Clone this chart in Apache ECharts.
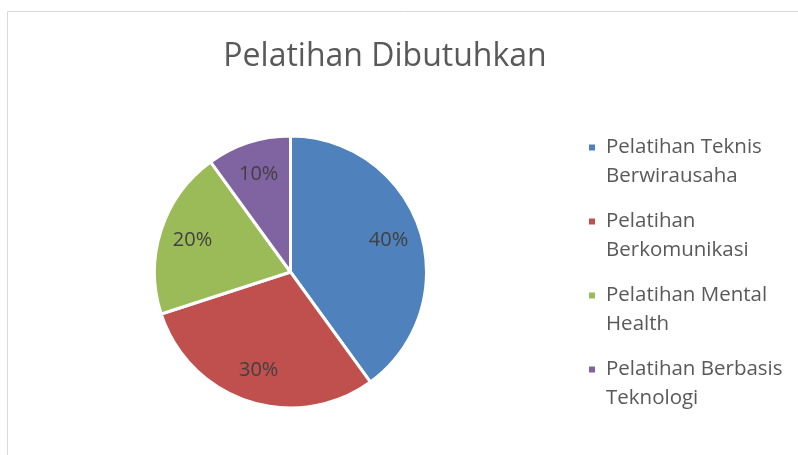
<!DOCTYPE html>
<html>
<head>
    <meta charset="UTF-8">
    <title>Pelatihan Dibutuhkan</title>
    <script src="https://cdn.jsdelivr.net/npm/echarts@6/dist/echarts.min.js"></script>
    <style>
        html, body { margin: 0; padding: 0; background: #fff; }
        #chart { width: 798px; height: 455px; }
    </style>
</head>
<body>
<div id="chart"></div>
<script>
    // data
    var categories = ['Pelatihan Teknis Berwirausaha', 'Pelatihan Berkomunikasi', 'Pelatihan Mental Health', 'Pelatihan Berbasis Teknologi'];
    var values = [40, 30, 20, 10];
    var colors = ['#4F81BD', '#C0504D', '#9BBB59', '#8064A2'];

    var pieData = categories.map(function (name, i) {
        return { name: name, value: values[i], itemStyle: { color: colors[i] } };
    });

    var chart = echarts.init(document.getElementById('chart'));
    var option = {
        animation: false,
        backgroundColor: '#fff',
        title: {
            text: 'Pelatihan Dibutuhkan',
            left: 380,
            textAlign: 'center',
            top: 36,
            textStyle: { fontFamily: 'Open Sans', fontSize: 32, fontWeight: 'normal', color: '#595959' }
        },
        legend: {
            orient: 'vertical',
            left: 587,
            top: 104,
            padding: 0,
            itemWidth: 8,
            itemHeight: 8,
            itemGap: -13,
            icon: 'rect',
            selectedMode: false,
            formatter: function (name) {
                // wrap before the last word; empty first line keeps the marker on line one
                var k = name.lastIndexOf(' ');
                return '\n' + name.slice(0, k) + '\n' + name.slice(k + 1);
            },
            textStyle: {
                fontFamily: 'Open Sans', fontSize: 20.5, color: '#595959',
                lineHeight: 29, padding: [0, 0, 0, 5]
            }
        },
        graphic: [{
            type: 'rect',
            shape: { x: 7.5, y: 11.5, width: 900, height: 600 },
            style: { fill: 'none', stroke: '#d9d9d9', lineWidth: 1 },
            silent: true
        }],
        series: [{
            type: 'pie',
            center: [290.5, 272],
            radius: 136,
            startAngle: 90,
            data: pieData,
            label: { show: false },
            labelLine: { show: false },
            itemStyle: { borderColor: '#fff', borderWidth: 3 },
            emphasis: { disabled: true }
        }, {
            // same slices, only used to place the percent labels
            type: 'pie',
            center: [290.5, 272],
            radius: [64, 136],
            startAngle: 90,
            silent: true,
            data: pieData.map(function (d) {
                return { name: d.name, value: d.value, itemStyle: { color: 'rgba(0,0,0,0)' } };
            }),
            label: {
                show: true, position: 'inside',
                formatter: '{d}%',
                fontFamily: 'Open Sans', fontSize: 20, color: '#404040'
            },
            labelLine: { show: false },
            emphasis: { disabled: true }
        }]
    };
    chart.setOption(option);
</script>
</body>
</html>
